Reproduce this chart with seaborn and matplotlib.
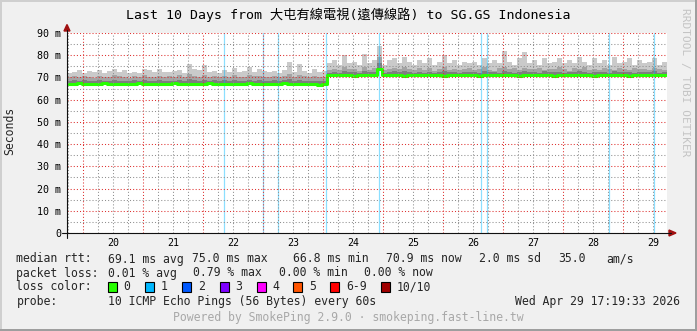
import numpy as np
import matplotlib
matplotlib.use("Agg")
import matplotlib.pyplot as plt
import seaborn as sns
from matplotlib.patches import Rectangle, Polygon
from matplotlib.lines import Line2D
from matplotlib.ticker import MultipleLocator, FuncFormatter
import matplotlib.transforms as mtrans

# ---------------- data ----------------
title = "Last 10 Days from 大屯有線電視(遠傳線路) to SG.GS Indonesia"
y_label = "Seconds"
day_labels = ["20", "21", "22", "23", "24", "25", "26", "27", "28", "29"]
day_label_pos = [1.5, 2.5, 3.5, 4.5, 5.5, 6.5, 7.5, 8.5, 9.5, 10.5]  # noon, days since Apr 19 00:00

start_day = 0.73          # left edge of graph (days since Apr 19 00:00)
step_days = 1.0 / 12.0    # 2 hour samples

median_ms = [
    67.2, 67.2, 67.3, 67.2, 67.1, 67.2, 67.2, 67.3, 67.2, 67.2,
    67.2, 67.1, 67.2, 67.2, 67.3, 67.2, 67.2, 67.2, 67.1, 67.2,
    67.2, 67.3, 67.2, 67.2, 67.2, 67.1, 67.2, 67.2, 67.3, 67.2,
    67.2, 67.2, 67.1, 67.2, 67.2, 67.2, 67.3, 67.2, 67.2, 67.2,
    67.1, 67.2, 67.2, 67.3, 67.2, 67.2, 67.2, 67.1, 67.2, 66.9,
    66.8, 67.0, 70.9, 70.9, 71.0, 70.9, 70.9, 70.8, 70.9, 70.9,
    71.0, 71.2, 74.0, 71.0, 70.9, 70.9, 70.9, 70.8, 70.9, 70.9,
    70.9, 71.0, 70.9, 70.9, 70.9, 70.8, 70.9, 70.9, 71.0, 70.9,
    70.9, 70.9, 70.8, 70.9, 70.9, 71.0, 70.9, 70.9, 70.9, 70.9,
    70.8, 70.9, 70.9, 71.0, 70.9, 70.9, 70.9, 70.8, 70.9, 70.9,
    70.9, 71.0, 70.9, 70.9, 70.9, 70.8, 70.9, 70.9, 71.1, 70.9,
    70.9, 70.9, 70.8, 70.9, 71.0, 70.9, 70.9, 70.9, 70.9, 71.0,
]
p8_ms = [
    68.5, 68.8, 68.4, 68.9, 68.6, 68.3, 68.8, 68.5, 68.4, 69.0,
    68.6, 68.4, 68.3, 68.7, 68.5, 68.9, 68.4, 68.6, 68.8, 68.3,
    68.6, 68.4, 68.9, 68.5, 69.2, 68.8, 68.5, 69.0, 68.3, 68.7,
    68.5, 68.8, 68.4, 68.9, 68.6, 68.4, 68.9, 68.5, 68.7, 68.4,
    68.6, 68.8, 68.3, 68.7, 69.3, 68.5, 69.0, 68.6, 68.4, 68.5,
    68.2, 68.4, 72.2, 72.6, 72.1, 72.8, 72.3, 72.5, 72.0, 72.7,
    72.3, 72.6, 76.5, 72.2, 72.5, 72.7, 72.3, 72.8, 72.4, 72.1,
    72.5, 72.2, 72.6, 72.0, 72.4, 72.8, 72.3, 72.5, 72.1, 72.6,
    72.4, 72.5, 72.1, 72.7, 72.3, 72.6, 72.2, 72.9, 72.4, 72.1,
    72.6, 72.8, 72.3, 72.5, 72.0, 72.7, 72.3, 72.4, 72.6, 72.2,
    72.5, 72.3, 72.7, 72.4, 72.1, 72.6, 72.3, 72.5, 72.0, 72.7,
    72.3, 72.4, 72.6, 72.1, 72.5, 72.3, 72.4, 72.7, 72.2, 72.4,
]
p9_ms = [
    70.2, 70.6, 70.0, 70.8, 70.3, 69.9, 70.7, 70.4, 70.0, 71.0,
    70.5, 70.2, 69.8, 70.6, 70.3, 70.9, 70.1, 70.4, 70.8, 70.0,
    70.5, 70.2, 70.9, 70.3, 71.5, 70.8, 70.4, 71.2, 70.0, 70.6,
    70.3, 70.8, 70.1, 70.9, 70.4, 70.2, 71.0, 70.5, 70.7, 70.2,
    70.4, 70.8, 70.1, 70.6, 71.6, 70.3, 71.2, 70.5, 70.2, 70.7,
    70.0, 70.4, 73.2, 74.0, 73.4, 74.8, 73.6, 73.9, 73.1, 74.6,
    73.5, 74.1, 79.0, 73.3, 74.0, 74.4, 73.6, 74.7, 73.8, 73.2,
    74.1, 73.5, 74.3, 73.0, 73.8, 74.6, 73.4, 74.0, 73.2, 73.7,
    74.2, 73.4, 73.8, 74.9, 73.5, 73.0, 74.3, 74.8, 73.6, 74.1,
    73.2, 74.4, 73.7, 73.9, 74.2, 73.3, 73.8, 74.0, 74.5, 73.6,
    73.1, 74.3, 73.7, 74.6, 73.4, 74.0, 73.2, 74.4, 73.8, 73.5,
    74.1, 73.9, 73.3, 74.2, 73.6, 74.0, 73.2, 74.3, 73.7, 73.5,
]
max_ms = [
    72.0, 72.3, 73.4, 71.9, 72.9, 72.6, 73.4, 71.9, 73.0, 73.7,
    72.6, 73.4, 71.9, 72.6, 71.9, 73.7, 73.4, 72.6, 73.7, 72.6,
    72.6, 73.0, 73.4, 72.2, 76.2, 74.0, 73.4, 75.6, 72.6, 73.0,
    72.2, 73.4, 72.6, 74.1, 72.6, 73.0, 74.9, 72.6, 73.7, 72.9,
    72.6, 73.0, 72.2, 73.4, 77.0, 72.6, 76.0, 73.0, 72.2, 73.7,
    72.6, 73.0, 76.5, 77.9, 75.6, 80.2, 76.4, 77.1, 75.6, 80.5,
    76.4, 77.9, 84.0, 75.6, 77.9, 78.6, 76.4, 79.4, 77.1, 75.6,
    77.9, 76.4, 78.6, 75.6, 77.1, 80.2, 76.4, 77.9, 75.6, 77.1,
    76.4, 77.1, 75.6, 78.6, 76.4, 77.9, 76.4, 82.0, 77.1, 75.6,
    78.6, 81.5, 76.4, 77.9, 75.6, 78.6, 76.4, 77.1, 78.6, 76.4,
    77.9, 76.4, 79.4, 77.1, 75.6, 78.6, 76.4, 77.9, 75.6, 79.4,
    76.4, 77.1, 78.6, 75.6, 77.9, 76.4, 77.1, 78.6, 75.6, 77.1,
]
# moments with one lost packet (days since Apr 19 00:00)
loss_days = [3.342, 3.992, 4.247, 5.047, 5.930, 7.630, 7.730, 9.763, 10.513]

legend_rows = [
    [(16.4, "median rtt:"), (107.6, "69.1 ms avg"), (192.0, "75.0 ms max"),
     (293.0, "66.8 ms min"), (385.8, "70.9 ms now"), (479.0, "2.0 ms sd"),
     (557.8, "35.0"), (606.7, "am/s")],
    [(16.4, "packet loss:"), (107.6, "0.01 % avg"), (193.3, "0.79 % max"),
     (279.0, "0.00 % min"), (364.4, "0.00 % now")],
]
loss_labels = ["0", "1", "2", "3", "4", "5", "6-9", "10/10"]
loss_colors = ["#26ff00", "#00b8ff", "#0059ff", "#7e00ff", "#ff00ff", "#ff5500", "#ff0000", "#a00000"]
probe_text = "10 ICMP Echo Pings (56 Bytes) every 60s"
date_text = "Wed Apr 29 17:19:33 2026"
powered_text = "Powered by SmokePing 2.9.0 · smokeping.fast-line.tw"

# ---------------- figure ----------------
sns.set_style("white")
plt.rcParams["font.family"] = ["DejaVu Sans Mono", "Noto Sans CJK TC"]

W, H = 697, 331
fig = plt.figure(figsize=(W / 100, H / 100), dpi=100, facecolor="#f0f0f0")


def fx(x):
    return x / W


def fy(y):
    return 1 - y / H


ax = fig.add_axes([fx(67), fy(233), 600 / W, 200 / H], facecolor="white")

t = start_day + step_days * np.arange(len(median_ms) + 1)


def ext(a):
    a = np.asarray(a, dtype=float)
    return np.append(a, a[-1])


med = ext(median_ms)
ax.fill_between(t, med, ext(max_ms), step="post", color="#cacaca", lw=0, zorder=1.0)
ax.fill_between(t, med, ext(p9_ms), step="post", color="#a4a4a4", lw=0, zorder=1.1)
ax.fill_between(t, med, ext(p8_ms), step="post", color="#7e7e7e", lw=0, zorder=1.2)
for d in loss_days:
    ax.axvline(d, color=(0.0, 0.72, 1.0, 0.45), lw=0.9, zorder=1.3)
sns.lineplot(x=t, y=med, ax=ax, drawstyle="steps-post", color="#26ff00",
             linewidth=2.2, estimator=None, legend=False, zorder=2.0)

ax.set_xlim(start_day, start_day + 10)
ax.set_ylim(0, 90)
for s in ax.spines.values():
    s.set_visible(False)

mgrid = (0.871, 0.188, 0.184, 0.24)
grid = (0.56, 0.56, 0.56, 0.20)
ax.xaxis.set_major_locator(MultipleLocator(1))
ax.xaxis.set_minor_locator(MultipleLocator(0.25))
ax.yaxis.set_major_locator(MultipleLocator(10))
ax.yaxis.set_minor_locator(MultipleLocator(5))
ax.set_axisbelow(False)
ax.grid(which="major", color=mgrid, lw=0.75, linestyle=(0, (1, 2)))
ax.grid(which="minor", color=grid, lw=0.75, linestyle=(0, (1, 2)))
ax.tick_params(which="major", direction="inout", length=2.9, width=0.75, color=(0.871, 0.188, 0.184, 0.4))
ax.tick_params(which="minor", direction="inout", length=2.9, width=0.75, color=(0.56, 0.56, 0.56, 0.35))
ax.tick_params(axis="x", which="both", labelbottom=False)
ax.tick_params(axis="y", labelsize=7.2, pad=2.9, labelcolor="black")
ax.yaxis.set_major_formatter(FuncFormatter(lambda v, p: "0" if v == 0 else f"{int(v)} m"))
ax.set_xlabel("")
ax.set_ylabel("")

trans = mtrans.blended_transform_factory(ax.transData, fig.transFigure)
for pos, lab in zip(day_label_pos, day_labels):
    ax.text(pos, fy(242.5), lab, transform=trans, ha="center", va="center",
            fontsize=7.2, color="black")

# axis lines and arrows
fig.add_artist(Line2D([fx(62), fx(671)], [fy(233), fy(233)], color="#101010", lw=0.8))
fig.add_artist(Polygon([[fx(669), fy(230)], [fx(676), fy(233)], [fx(669), fy(236)]],
                       closed=True, color="#a01010", transform=fig.transFigure))
fig.add_artist(Line2D([fx(67), fx(67)], [fy(238), fy(30)], color="#101010", lw=0.8))
fig.add_artist(Polygon([[fx(64), fy(31)], [fx(67), fy(24.5)], [fx(70), fy(31)]],
                       closed=True, color="#a01010", transform=fig.transFigure))

# title and labels
fig.text(fx(348), fy(19.5), title, ha="center", va="baseline", fontsize=9.5, color="black")
fig.text(fx(10), fy(131), y_label, rotation=90, ha="center", va="center", fontsize=8.3)
fig.text(fx(685), fy(82), "RRDTOOL / TOBI OETIKER", rotation=270, ha="center", va="center",
         fontsize=8.0, color="#c4c4c4")

# legend
baselines = [262.5, 276.5, 290.5, 304.8]
for row, yb in zip(legend_rows, baselines[:2]):
    for x, s in row:
        fig.text(fx(x), fy(yb), s, ha="left", va="baseline", fontsize=8.3)

fig.text(fx(16.4), fy(baselines[2]), "loss color:", ha="left", va="baseline", fontsize=8.3)
box_x = [108, 145.3, 182.2, 220, 256.9, 293.3, 330.2, 381.3]
for bx, lab, col in zip(box_x, loss_labels, loss_colors):
    fig.add_artist(Rectangle((fx(bx), fy(292)), 9 / W, 10 / H, facecolor=col,
                             edgecolor="black", lw=0.8, transform=fig.transFigure))
    fig.text(fx(bx + 15.6), fy(baselines[2]), lab, ha="left", va="baseline", fontsize=8.3)

fig.text(fx(16.4), fy(baselines[3]), "probe:", ha="left", va="baseline", fontsize=8.3)
fig.text(fx(107.6), fy(baselines[3]), probe_text, ha="left", va="baseline", fontsize=8.3)
fig.text(fx(680), fy(baselines[3]), date_text, ha="right", va="baseline", fontsize=8.3)
fig.text(fx(348.5), fy(321.5), powered_text, ha="center", va="baseline", fontsize=8.3,
         color="#a8a8a8")

# 3D frame
fig.add_artist(Rectangle((0, fy(2)), 1, 2 / H, color="#cfcfcf", transform=fig.transFigure, lw=0))
fig.add_artist(Rectangle((0, 0), 2 / W, 1, color="#cfcfcf", transform=fig.transFigure, lw=0))
fig.add_artist(Rectangle((0, 0), 1, 2 / H, color="#9e9e9e", transform=fig.transFigure, lw=0))
fig.add_artist(Rectangle((fx(695), 0), 2 / W, 1, color="#9e9e9e", transform=fig.transFigure, lw=0))

fig.savefig("out.png", dpi=100, facecolor=fig.get_facecolor())
